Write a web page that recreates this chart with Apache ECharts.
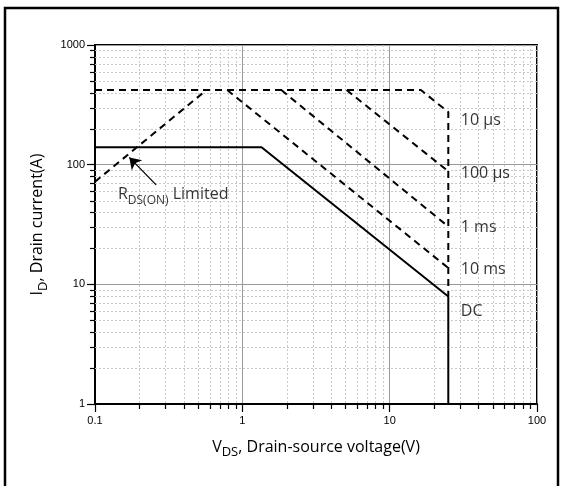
<!DOCTYPE html>
<html>
<head>
<meta charset="utf-8">
<script src="https://cdn.jsdelivr.net/npm/echarts@6/dist/echarts.min.js"></script>
<style>
  html, body { margin: 0; padding: 0; background: #fff; }
  #chart { width: 569px; height: 486px; }
</style>
</head>
<body>
<div id="chart"></div>
<script>
// SOA curves, points are [Vds (V), Id (A)]
const rdsLimit = [[0.1, 72], [0.57, 420]]
const soa10us = [[0.1, 420], [16.3, 420], [25, 275], [25, 8]]
const soa100us = [[5.1, 420], [25, 88]]
const soa1ms = [[1.84, 420], [25, 30.4]]
const soa10ms = [[0.79, 420], [25, 13.7]]
const soaDC = [[0.1, 140], [1.35, 140], [25, 7.9], [25, 1]]

// curve names, anchored next to the end of each curve
const curveLabels = [[25, 232, '10 µs'], [25, 85, '100 µs'], [25, 29.6, '1 ms'], [25, 13.2, '10 ms'], [25, 5.9, 'DC']]
// R_DS(ON) note: arrow tail -> tip, and where the text starts
const rdsArrow = [[0.26, 67.8], [0.171, 115]]
const rdsText = [[0.142, 56]]

// minor grid values (log decades)
const xMinor = [0.2, 0.3, 0.4, 0.5, 0.6, 0.7, 0.8, 0.9, 2, 3, 4, 5, 6, 7, 8, 9, 20, 30, 40, 50, 60, 70, 80, 90]
const yMinor = [2, 3, 4, 5, 6, 7, 8, 9, 20, 30, 40, 50, 60, 70, 80, 90, 200, 300, 400, 500, 600, 700, 800, 900]

const FONT = '"Open Sans", "Noto Sans", sans-serif'
const dashed = { color: '#000', width: 2, type: [7, 5] }

const chart = echarts.init(document.getElementById('chart'))

// 次刻度：虚线网格 + 轴外短刻度
function minorX(params, api) {
  const cs = params.coordSys
  const x = Math.round(api.coord([api.value(0), 1])[0]) + 0.5
  const yb = cs.y + cs.height
  return {
    type: 'group',
    children: [
      { type: 'line', shape: { x1: x, y1: cs.y, x2: x, y2: yb }, style: { stroke: '#c8c8c8', lineWidth: 1, lineDash: [2, 2] } },
      { type: 'line', shape: { x1: x, y1: yb, x2: x, y2: yb + 5 }, style: { stroke: '#000', lineWidth: 1.2 } }
    ]
  }
}
function minorY(params, api) {
  const cs = params.coordSys
  const y = Math.round(api.coord([0.1, api.value(1)])[1]) + 0.5
  return {
    type: 'group',
    children: [
      { type: 'line', shape: { x1: cs.x, y1: y, x2: cs.x + cs.width, y2: y }, style: { stroke: '#c8c8c8', lineWidth: 1, lineDash: [2, 2] } },
      { type: 'line', shape: { x1: cs.x - 5, y1: y, x2: cs.x, y2: y }, style: { stroke: '#000', lineWidth: 1.2 } }
    ]
  }
}

function curve(data, lineStyle) {
  return {
    type: 'line', data: data, symbol: 'none', z: 5,
    lineStyle: lineStyle, silent: true, animation: false
  }
}

const nameRich = {
  n: { fontFamily: FONT, fontSize: 16, color: '#000', lineHeight: 24 },
  s: { fontFamily: FONT, fontSize: 13, color: '#000', lineHeight: 12, verticalAlign: 'bottom' }
}
const noteRich = {
  n: { fontFamily: FONT, fontSize: 16, color: '#000', lineHeight: 24 },
  s: { fontFamily: FONT, fontSize: 12, color: '#000', lineHeight: 12, verticalAlign: 'bottom' }
}

const option = {
  animation: false,
  graphic: [{
    type: 'rect', shape: { x: 5, y: 8, width: 553, height: 600 },
    style: { fill: 'none', stroke: '#000', lineWidth: 2.5 }, silent: true
  }],
  grid: {
    left: 95, right: 32, top: 45, bottom: 82,
    show: true, borderColor: '#000', borderWidth: 2
  },
  xAxis: {
    type: 'log', logBase: 10, min: 0.1, max: 100, interval: 1,
    axisLine: { lineStyle: { color: '#000', width: 2 } },
    axisTick: { length: 8, lineStyle: { color: '#000', width: 1.2 } },
    axisLabel: { color: '#000', fontFamily: 'Liberation Sans', fontSize: 11, margin: 11, formatter: (v) => String(+v.toPrecision(3)) },
    splitLine: { show: true, lineStyle: { color: '#9a9a9a', width: 1 } },
    name: '{n|V}{s|DS}{n|, Drain-source voltage(V)}',
    nameLocation: 'middle', nameGap: 31,
    nameTextStyle: { rich: nameRich }
  },
  yAxis: {
    type: 'log', logBase: 10, min: 1, max: 1000, interval: 1,
    axisLine: { lineStyle: { color: '#000', width: 2 } },
    axisTick: { length: 8, lineStyle: { color: '#000', width: 1.2 } },
    axisLabel: { color: '#000', fontFamily: 'Liberation Sans', fontSize: 11, margin: 10, formatter: (v) => String(+v.toPrecision(3)) },
    splitLine: { show: true, lineStyle: { color: '#9a9a9a', width: 1 } },
    name: '{n|I}{s|D}{n|, Drain current(A)}',
    nameLocation: 'middle', nameGap: 36,
    nameTextStyle: { rich: nameRich }
  },
  series: [
    { type: 'custom', data: xMinor.map((v) => [v, 1]), renderItem: minorX, clip: false, silent: true, z: 1 },
    { type: 'custom', data: yMinor.map((v) => [0.1, v]), renderItem: minorY, clip: false, silent: true, z: 1 },
    curve(rdsLimit, dashed),
    curve(soa10us, dashed),
    curve(soa100us, dashed),
    curve(soa1ms, dashed),
    curve(soa10ms, dashed),
    curve(soaDC, { color: '#000', width: 2 }),
    {
      type: 'lines', coordinateSystem: 'cartesian2d', z: 6, silent: true,
      data: [{ coords: rdsArrow }],
      symbol: ['none', 'arrow'], symbolSize: [7, 11],
      lineStyle: { color: '#000', width: 1.3, opacity: 1 },
      itemStyle: { color: '#000', opacity: 1 }
    },
    {
      type: 'scatter', data: curveLabels, symbolSize: 1, z: 6, silent: true,
      itemStyle: { color: 'transparent' },
      label: {
        show: true, position: 'right', distance: 12,
        fontFamily: FONT, fontSize: 16, color: '#000',
        formatter: (p) => p.data[2]
      }
    },
    {
      type: 'scatter', data: rdsText, symbolSize: 1, z: 6, silent: true,
      itemStyle: { color: 'transparent' },
      label: {
        show: true, position: 'right', distance: 0,
        formatter: '{n|R}{s|DS(ON)}{n| Limited}',
        rich: noteRich
      }
    }
  ]
}

chart.setOption(option)
</script>
</body>
</html>
